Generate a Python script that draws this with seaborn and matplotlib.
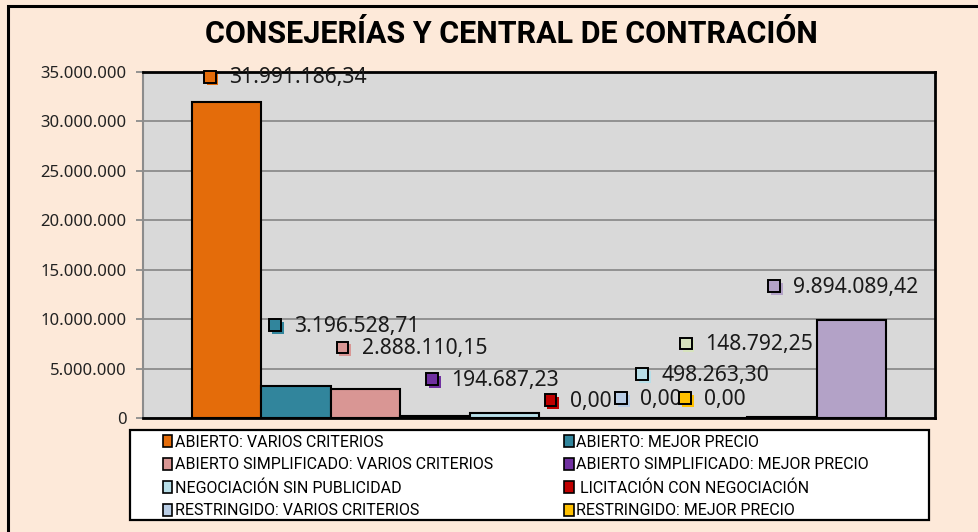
import pandas as pd
import seaborn as sns
import matplotlib.pyplot as plt
from matplotlib.patches import Rectangle, Patch
from matplotlib.offsetbox import DrawingArea, TextArea, HPacker, AnnotationBbox
from matplotlib.ticker import FuncFormatter, MultipleLocator

# data
tipos = [
    'ABIERTO: VARIOS CRITERIOS',
    'ABIERTO: MEJOR PRECIO',
    'ABIERTO SIMPLIFICADO: VARIOS CRITERIOS',
    'ABIERTO SIMPLIFICADO: MEJOR PRECIO',
    'NEGOCIACIÓN SIN PUBLICIDAD',
    ' LICITACIÓN CON NEGOCIACIÓN',
    'RESTRINGIDO: VARIOS CRITERIOS',
    'RESTRINGIDO: MEJOR PRECIO',
    'BASADO EN ACUERDO MARCO',
    'CONTRATO MENOR',
]
importes = [31991186.34, 3196528.71, 2888110.15, 194687.23, 498263.30,
            0.0, 0.0, 0.0, 148792.25, 9894089.42]
colores = ['#E46C0A', '#31859C', '#D99694', '#7030A0', '#B7DEE8',
           '#C00000', '#B9CDE5', '#FFC000', '#D7E4BD', '#B3A2C7']
n_leyenda = 8

# label offsets (pixels) from the top centre of each bar
offsets = [(-23, 24), (-27, 60), (-29, 41), (-9, 36), (132, 38),
           (-29, 17), (-28, 19), (-33, 19), (-102, 72), (-83, 33)]

NARROW = ['Roboto', 'DejaVu Sans']
plt.rcParams['font.family'] = ['Noto Sans', 'DejaVu Sans']


def es_num(v, dec=2):
    s = f'{v:,.{dec}f}'
    return s.replace(',', '#').replace('.', ',').replace('#', '.')


df = pd.DataFrame({'grupo': ['total'] * len(tipos), 'tipo': tipos, 'importe': importes})

fig = plt.figure(figsize=(9.79, 5.32), dpi=100, facecolor='#FDE9D9')
ax = fig.add_axes([143 / 979, 1 - 418 / 532, 792 / 979, 346 / 532])
ax.set_facecolor('#D9D9D9')

sns.barplot(data=df, x='grupo', y='importe', hue='tipo', hue_order=tipos,
            palette=colores, width=0.876, edgecolor='black', linewidth=1.5,
            saturation=1, legend=False, ax=ax, zorder=3)

ax.set_xlim(-0.5, 0.5)
ax.set_ylim(0, 35000000)
ax.yaxis.set_major_locator(MultipleLocator(5000000))
ax.yaxis.set_major_formatter(FuncFormatter(lambda v, p: es_num(v, 0)))
ax.grid(axis='y', color='#8C8C8C', lw=1.3, zorder=0)
ax.set_axisbelow(True)
ax.set_xticks([])
ax.set_xlabel('')
ax.set_ylabel('')
ax.tick_params(axis='y', direction='out', length=5, width=1.3, color='#8C8C8C',
               labelsize=12, labelcolor='#222222', pad=7)
ax.spines['left'].set_color('#8C8C8C')
ax.spines['left'].set_linewidth(1.5)
for s in ['top', 'right', 'bottom']:
    ax.spines[s].set_color('black')
    ax.spines[s].set_linewidth(2)

# data labels with square keys
for cont, col, (dx, dy), val in zip(ax.containers, colores, offsets, importes):
    bar = cont.patches[0]
    xc = bar.get_x() + bar.get_width() / 2
    da = DrawingArea(11, 11, 0, 0)
    da.add_artist(Rectangle((2, 0), 8.5, 8.5, facecolor=col, edgecolor='none'))
    da.add_artist(Rectangle((0, 2), 8.5, 8.5, facecolor=col, edgecolor='black', lw=1.4))
    ta = TextArea(es_num(val), textprops=dict(fontsize=15.2, color='#1a1a1a'))
    box = HPacker(children=[da, ta], sep=7, pad=0, align='center')
    ab = AnnotationBbox(box, (xc, bar.get_height()), xybox=(dx, dy),
                        boxcoords='offset pixels', box_alignment=(0, 0.5),
                        frameon=False, pad=0, annotation_clip=False)
    ax.add_artist(ab)

fig.text(511 / 979, 1 - 34 / 532, 'CONSEJERÍAS Y CENTRAL DE CONTRACIÓN',
         ha='center', va='center', fontsize=22, fontweight='bold', family=NARROW)

# outer frame of the chart
fig.patches.append(Rectangle((8 / 979, -0.5), 1.5, 1.5 - 6 / 532, transform=fig.transFigure,
                             fill=False, edgecolor='black', lw=2.2))

# legend box
fig.patches.append(Rectangle((130 / 979, 1 - 520 / 532), 799 / 979, 90 / 532,
                             transform=fig.transFigure, facecolor='white',
                             edgecolor='black', lw=1.6, zorder=1))
orden = [0, 2, 4, 6, 1, 3, 5, 7]
handles = [Patch(facecolor=colores[i], edgecolor='black', lw=1.2) for i in orden]
labels = [tipos[i] for i in orden][:n_leyenda]
leg = fig.legend(handles, labels, ncol=2, loc='upper left',
                 bbox_to_anchor=(158 / 979, 1 - 430 / 532), frameon=False,
                 handlelength=0.6, handleheight=0.8, handletextpad=0.15,
                 columnspacing=4.45, labelspacing=0.48, borderpad=0.3,
                 borderaxespad=0, prop={'family': NARROW, 'size': 11.5})
leg.set_zorder(2)

fig.savefig('out.png', dpi=100, facecolor=fig.get_facecolor())
